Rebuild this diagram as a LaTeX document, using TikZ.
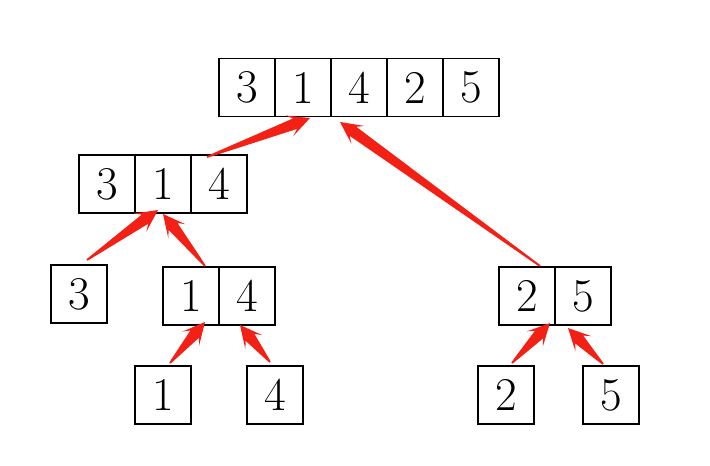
\documentclass[tikz,border=0pt]{standalone}
\usetikzlibrary{calc}
\definecolor{arrowred}{RGB}{243,32,22}
\tikzset{
  cell/.style={draw, line width=1.3pt, minimum width=56pt, minimum height=58pt, inner sep=0pt, font=\fontsize{47}{50}\selectfont},
}
\newcommand\redarrow[2]{%
  \fill[arrowred]
    ($(#1)!0.9pt!90:(#2)$) --
    ($(#2)!16pt!(#1)!5.6pt!-90:(#1)$) --
    ($(#2)!22pt!(#1)!11pt!-90:(#1)$) --
    (#2) --
    ($(#2)!22pt!(#1)!11pt!90:(#1)$) --
    ($(#2)!16pt!(#1)!5.6pt!90:(#1)$) --
    ($(#1)!0.9pt!-90:(#2)$) -- cycle;}
\begin{document}
\begin{tikzpicture}[x=1pt,y=-1pt]
\useasboundingbox (0,0) rectangle (710,466);
% top array
\node[cell] (t1) at (247,87.5) {3};
\node[cell] (t2) at (303,87.5) {1};
\node[cell] (t3) at (359,87.5) {4};
\node[cell] (t4) at (415,87.5) {2};
\node[cell] (t5) at (471,87.5) {5};
% second level
\node[cell] (s1) at (107,184) {3};
\node[cell] (s2) at (163,184) {1};
\node[cell] (s3) at (219,184) {4};
\node[cell] (a3) at (79,294) {3};
\node[cell] (b1) at (191,296) {1};
\node[cell] (b2) at (247,296) {4};
\node[cell] (c1) at (527,296) {2};
\node[cell] (c2) at (583,296) {5};
% leaves
\node[cell] (l1) at (163,395) {1};
\node[cell] (l4) at (275,395) {4};
\node[cell] (l2) at (506,395) {2};
\node[cell] (l5) at (611,395) {5};
% arrow ends
\coordinate (p1s) at (207,157);
\coordinate (p1t) at (310,118);
\coordinate (p2s) at (540,266);
\coordinate (p2t) at (340,122);
\coordinate (p3s) at (87,260);
\coordinate (p3t) at (158,210);
\coordinate (p4s) at (205,266);
\coordinate (p4t) at (163,214);
\coordinate (p5s) at (170,363);
\coordinate (p5t) at (205,322);
\coordinate (p6s) at (270,362);
\coordinate (p6t) at (240,325);
\coordinate (p7s) at (512,363);
\coordinate (p7t) at (550,323);
\coordinate (p8s) at (603,364);
\coordinate (p8t) at (568,328);
\redarrow{p1s}{p1t}
\redarrow{p2s}{p2t}
\redarrow{p3s}{p3t}
\redarrow{p4s}{p4t}
\redarrow{p5s}{p5t}
\redarrow{p6s}{p6t}
\redarrow{p7s}{p7t}
\redarrow{p8s}{p8t}
\end{tikzpicture}
\end{document}
